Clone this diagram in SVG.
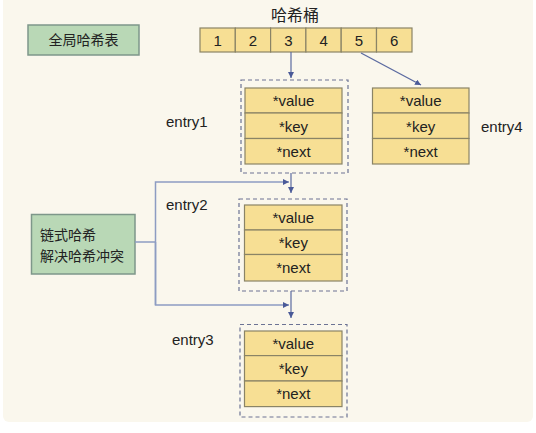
<svg xmlns="http://www.w3.org/2000/svg" width="536" height="433" viewBox="0 0 536 433">
<style>
.t{font-family:"Liberation Sans","Noto Sans CJK SC",sans-serif;font-size:15px;fill:#222;}
.z{font-size:14px;}
.c{text-anchor:middle;}
.cell{fill:#f7df94;stroke:#8a8466;stroke-width:1.2;}
.green{fill:#b9d8b6;stroke:#7e978a;stroke-width:1.5;}
.dash{fill:none;stroke:#6c7394;stroke-width:1.2;stroke-dasharray:4 3;}
.ln{fill:none;stroke:#5b6aa0;stroke-width:1.2;}
.ln2{fill:none;stroke:#8d9cc2;stroke-width:1.5;}
</style>
<defs>
<marker id="ah" viewBox="0 0 10 10" refX="10" refY="5" markerWidth="6" markerHeight="6" orient="auto" markerUnits="userSpaceOnUse">
<path d="M0,0 L10,5 L0,10 z" fill="#4a5a98"/>
</marker>
</defs>
<rect x="3" y="-6" width="530" height="428" rx="6" fill="#faf7ed"/>

<g id="global">
<rect class="green" x="28" y="25" width="111" height="30"/>
<text class="t z c" x="83.5" y="45">全局哈希表</text>
</g>

<g id="buckets">
<text class="t c" style="font-size:16px" x="295" y="21">哈希桶</text>
<rect class="cell" x="200" y="28" width="35.3" height="24"/>
<rect class="cell" x="235.3" y="28" width="35.3" height="24"/>
<rect class="cell" x="270.6" y="28" width="35.3" height="24"/>
<rect class="cell" x="305.9" y="28" width="35.3" height="24"/>
<rect class="cell" x="341.2" y="28" width="35.3" height="24"/>
<rect class="cell" x="376.5" y="28" width="35.5" height="24"/>
<text class="t c" x="217.6" y="45.5">1</text>
<text class="t c" x="253" y="45.5">2</text>
<text class="t c" x="288.3" y="45.5">3</text>
<text class="t c" x="323.6" y="45.5">4</text>
<text class="t c" x="358.9" y="45.5">5</text>
<text class="t c" x="394.2" y="45.5">6</text>
</g>

<g id="entry1">
<rect class="dash" x="241" y="80" width="107" height="93"/>
<rect class="cell" x="245" y="88" width="97" height="25"/>
<rect class="cell" x="245" y="113" width="97" height="25.5"/>
<rect class="cell" x="245" y="138.5" width="97" height="25.5"/>
<text class="t c" x="293.5" y="106">*value</text>
<text class="t c" x="293.5" y="131.5">*key</text>
<text class="t c" x="293.5" y="156.5">*next</text>
<text class="t" x="166" y="126.5">entry1</text>
</g>

<g id="entry4">
<rect class="cell" x="372.5" y="88" width="96.5" height="25"/>
<rect class="cell" x="372.5" y="113" width="96.5" height="25.5"/>
<rect class="cell" x="372.5" y="138.5" width="96.5" height="25.5"/>
<text class="t c" x="420.7" y="106">*value</text>
<text class="t c" x="420.7" y="131.5">*key</text>
<text class="t c" x="420.7" y="156.5">*next</text>
<text class="t" x="481" y="131.5">entry4</text>
</g>

<g id="entry2">
<rect class="dash" x="239" y="199" width="108" height="92"/>
<rect class="cell" x="244.5" y="205" width="97.5" height="25"/>
<rect class="cell" x="244.5" y="230" width="97.5" height="24.5"/>
<rect class="cell" x="244.5" y="254.5" width="97.5" height="26.5"/>
<text class="t c" x="293.3" y="223">*value</text>
<text class="t c" x="293.3" y="247.5">*key</text>
<text class="t c" x="293.3" y="273">*next</text>
<text class="t" x="166" y="209.5">entry2</text>
</g>

<g id="entry3">
<rect class="dash" x="240" y="324.5" width="107" height="92.5"/>
<rect class="cell" x="244.5" y="331" width="97.5" height="24.6"/>
<rect class="cell" x="244.5" y="355.6" width="97.5" height="25.4"/>
<rect class="cell" x="244.5" y="381" width="97.5" height="25.6"/>
<text class="t c" x="293.3" y="348.5">*value</text>
<text class="t c" x="293.3" y="373.5">*key</text>
<text class="t c" x="293.3" y="399">*next</text>
<text class="t" x="172" y="344.5">entry3</text>
</g>

<g id="chain">
<rect class="green" x="31.5" y="214.5" width="103.5" height="59.5"/>
<text class="t z" x="40" y="240">链式哈希</text>
<text class="t z" x="40" y="261">解决哈希冲突</text>
</g>

<g id="connectors">
<line class="ln" x1="291" y1="52" x2="291" y2="78" marker-end="url(#ah)"/>
<line class="ln" x1="361" y1="53" x2="421" y2="85" marker-end="url(#ah)"/>
<line class="ln" x1="291" y1="173" x2="291" y2="193" marker-end="url(#ah)"/>
<line class="ln" x1="291" y1="291" x2="291" y2="318" marker-end="url(#ah)"/>
<polyline class="ln2" points="135,242 155.5,242"/>
<polyline class="ln2" points="155.5,305 155.5,182 289,182" marker-end="url(#ah)"/>
<polyline class="ln2" points="155.5,242 155.5,305 289,305" marker-end="url(#ah)"/>
</g>
</svg>
